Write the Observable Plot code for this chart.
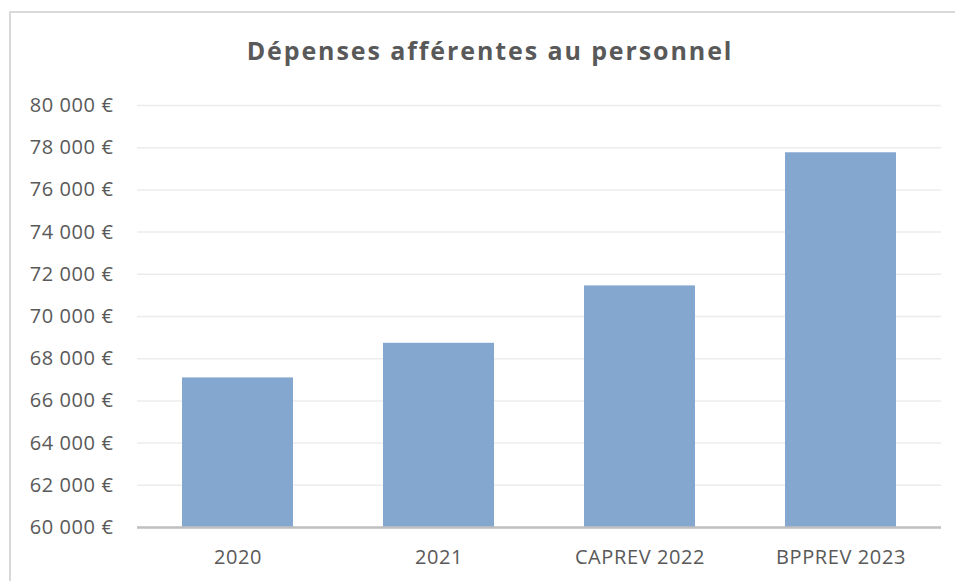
<!DOCTYPE html>
<html>
<head>
<meta charset="utf-8">
<script src="https://cdn.jsdelivr.net/npm/d3@7"></script>
<script src="https://cdn.jsdelivr.net/npm/@observablehq/plot@0.6"></script>
<style>
  html, body { margin: 0; padding: 0; background: #fff; overflow: hidden; }
  body { width: 955px; height: 581px; position: relative; font-family: "Open Sans", sans-serif; }
  #frame { position: absolute; left: 9px; top: 11px; width: 962px; height: 620px; border: 2px solid #d9d9d9; box-sizing: border-box; }
  #title { position: absolute; left: 10px; width: 960px; top: 33px; text-align: center; font-size: 25px; font-weight: bold; color: #595959; letter-spacing: 1.9px; }
  #chart { position: absolute; left: 0; top: 85px; }
  #chart svg text { letter-spacing: 0.6px; }
</style>
</head>
<body>
<div id="frame"></div>
<div id="title">Dépenses afférentes au personnel</div>
<div id="chart"></div>
<script>
const categories = ["2020", "2021", "CAPREV 2022", "BPPREV 2023"];
const values = [67090, 68730, 71450, 77760];
const yTicks = [60000, 62000, 64000, 66000, 68000, 70000, 72000, 74000, 76000, 78000, 80000];

const data = categories.map((c, i) => ({category: c, value: values[i]}));
const fmt = d => d3.format(",")(d).replace(/,/g, " ") + " €";

const plot = Plot.plot({
  width: 955,
  height: 496,
  marginTop: 20,
  marginBottom: 54,
  marginLeft: 137,
  marginRight: 14,
  style: {fontFamily: "Open Sans, sans-serif", fontSize: "20px", color: "#595959", background: "transparent"},
  x: {domain: categories, paddingInner: 0.45, paddingOuter: 0.225, label: null, tickSize: 0, tickPadding: 22},
  y: {domain: [60000, 80000], ticks: yTicks, tickFormat: fmt, label: null, tickSize: 0, tickPadding: 24},
  marks: [
    Plot.gridY(yTicks, {stroke: "#ececec", strokeOpacity: 1, strokeWidth: 1.5}),
    Plot.barY(data, {x: "category", y1: 60000, y2: "value", fill: "#84a7d0"}),
    Plot.ruleY([60000], {stroke: "#bfbfbf", strokeWidth: 2.5}),
    Plot.axisY({ticks: yTicks, tickFormat: fmt, tickSize: 0, tickPadding: 24, label: null}),
    Plot.axisX({tickSize: 0, tickPadding: 22, label: null})
  ]
});
document.getElementById("chart").appendChild(plot);
</script>
</body>
</html>
